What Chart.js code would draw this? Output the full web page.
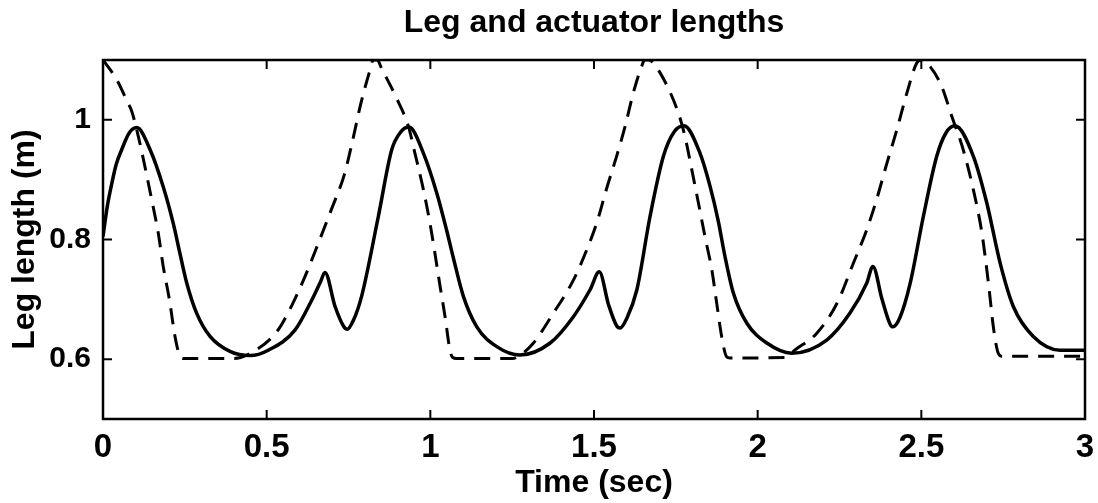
<!DOCTYPE html>
<html>
<head>
<meta charset="utf-8">
<title>Leg and actuator lengths</title>
<script src="https://cdn.jsdelivr.net/npm/chart.js@4.4.1/dist/chart.umd.min.js"></script>
<style>
  html, body { margin: 0; padding: 0; background: #fff; }
  #wrap { width: 1098px; height: 503px; position: relative; }
</style>
</head>
<body>
<div id="wrap"><canvas id="legChart"></canvas></div>
<script>
// ---- data ----
var xTicks = [0, 0.5, 1, 1.5, 2, 2.5, 3];
var yTicks = [0.6, 0.8, 1];

// leg length (solid)
var tLeg = [0, 0.013, 0.027, 0.04, 0.057, 0.08, 0.103, 0.144, 0.184, 0.215, 0.235, 0.256, 0.286, 0.327, 0.388, 0.449,
    0.505, 0.587, 0.638, 0.665, 0.678, 0.709, 0.735, 0.746, 0.765, 0.79, 0.841, 0.882, 0.91, 0.935,
    0.979, 1.02, 1.05, 1.07, 1.101, 1.142, 1.203, 1.274, 1.366, 1.437, 1.488, 1.516, 1.545, 1.57,
    1.58, 1.6, 1.631, 1.671, 1.712, 1.745, 1.775, 1.824, 1.855, 1.88, 1.9, 1.926, 1.967, 2.028,
    2.104, 2.211, 2.282, 2.333, 2.352, 2.38, 2.405, 2.413, 2.435, 2.466, 2.506, 2.547, 2.575, 2.603,
    2.659, 2.7, 2.741, 2.781, 2.842, 2.924, 3.0];
var legLen = [0.805, 0.855, 0.894, 0.925, 0.95, 0.978, 0.987, 0.95, 0.888, 0.826, 0.777, 0.727, 0.677, 0.638, 0.613, 0.606,
    0.615, 0.649, 0.699, 0.73, 0.745, 0.688, 0.655, 0.65, 0.665, 0.705, 0.838, 0.95, 0.98, 0.988,
    0.944, 0.877, 0.815, 0.77, 0.705, 0.654, 0.621, 0.607, 0.627, 0.671, 0.716, 0.746, 0.69, 0.655,
    0.652, 0.668, 0.716, 0.838, 0.939, 0.98, 0.99, 0.944, 0.888, 0.83, 0.772, 0.71, 0.66, 0.627,
    0.61, 0.632, 0.677, 0.727, 0.755, 0.7, 0.658, 0.654, 0.67, 0.727, 0.838, 0.939, 0.978, 0.99,
    0.939, 0.861, 0.76, 0.688, 0.638, 0.615, 0.615];

// actuator length (dashed)
var tAct = [0, 0.011, 0.042, 0.072, 0.088, 0.108, 0.128, 0.149, 0.169, 0.184, 0.203, 0.22, 0.233, 0.245,
    0.4, 0.44, 0.531, 0.577, 0.617, 0.658, 0.699, 0.737, 0.762, 0.788, 0.813, 0.826, 0.838, 0.851,
    0.897, 0.933, 0.953, 0.979, 0.999, 1.014, 1.03, 1.045, 1.06, 1.068, 1.08, 1.25, 1.275, 1.315,
    1.376, 1.437, 1.478, 1.508, 1.539, 1.569, 1.595, 1.62, 1.646, 1.655, 1.667, 1.697, 1.758, 1.778,
    1.799, 1.819, 1.839, 1.86, 1.875, 1.89, 1.905, 1.915, 2.09, 2.109, 2.18, 2.242, 2.292, 2.333,
    2.364, 2.394, 2.425, 2.456, 2.486, 2.501, 2.527, 2.562, 2.593, 2.628, 2.659, 2.685, 2.705, 2.72,
    2.733, 2.745, 3.0];
var actLen = [1.1, 1.092, 1.067, 1.033, 1.014, 0.972, 0.922, 0.866, 0.81, 0.755, 0.699, 0.638, 0.608, 0.601,
    0.601, 0.607, 0.646, 0.69, 0.738, 0.794, 0.852, 0.908, 0.964, 1.028, 1.078, 1.1, 1.1, 1.086,
    1.036, 0.989, 0.944, 0.883, 0.827, 0.777, 0.721, 0.671, 0.615, 0.603, 0.601, 0.601, 0.607, 0.627,
    0.677, 0.732, 0.783, 0.827, 0.886, 0.939, 0.989, 1.045, 1.09, 1.1, 1.1, 1.083, 1.011, 0.972,
    0.916, 0.861, 0.805, 0.749, 0.693, 0.638, 0.604, 0.602, 0.603, 0.613, 0.643, 0.693, 0.76, 0.816,
    0.868, 0.926, 0.983, 1.045, 1.095, 1.1, 1.089, 1.056, 1.006, 0.95, 0.883, 0.811, 0.727, 0.654,
    0.613, 0.605, 0.605];

function toPoints(xs, ys) {
    return xs.map(function (x, i) { return { x: x, y: ys[i] }; });
}

var fontFam = '"Liberation Sans", Arial, Helvetica, sans-serif';

// box round the plot area with inward ticks on all four sides
var boxPlugin = {
    id: 'matlabBox',
    afterDraw: function (chart) {
        var ctx = chart.ctx, a = chart.chartArea;
        var sx = chart.scales.x, sy = chart.scales.y;
        var len = 9;
        ctx.save();
        ctx.strokeStyle = '#000';
        ctx.lineWidth = 2.5;
        ctx.strokeRect(a.left, a.top, a.right - a.left, a.bottom - a.top);
        ctx.lineWidth = 2;
        ctx.beginPath();
        sx.ticks.forEach(function (t) {
            var px = sx.getPixelForValue(t.value);
            ctx.moveTo(px, a.bottom); ctx.lineTo(px, a.bottom - len);
            ctx.moveTo(px, a.top); ctx.lineTo(px, a.top + len);
        });
        sy.ticks.forEach(function (t) {
            var py = sy.getPixelForValue(t.value);
            ctx.moveTo(a.left, py); ctx.lineTo(a.left + len, py);
            ctx.moveTo(a.right, py); ctx.lineTo(a.right - len, py);
        });
        ctx.stroke();
        ctx.restore();
    }
};

new Chart(document.getElementById('legChart'), {
    type: 'scatter',
    data: {
        datasets: [{
            label: 'Leg length',
            data: toPoints(tLeg, legLen),
            showLine: true,
            borderColor: '#000',
            borderWidth: 3.5,
            pointRadius: 0,
            cubicInterpolationMode: 'monotone'
        }, {
            label: 'Actuator length',
            data: toPoints(tAct, actLen),
            showLine: true,
            borderColor: '#000',
            borderWidth: 3,
            borderDash: [16, 10],
            pointRadius: 0,
            cubicInterpolationMode: 'monotone'
        }]
    },
    options: {
        responsive: true,
        maintainAspectRatio: false,
        animation: false,
        layout: { padding: { left: 0, right: 13, top: 0, bottom: 0 } },
        plugins: {
            legend: { display: false },
            tooltip: { enabled: false },
            title: {
                display: true,
                text: 'Leg and actuator lengths',
                fullSize: false,
                color: '#000',
                font: { family: fontFam, size: 32, weight: 'bold', lineHeight: 1.2 },
                padding: { top: 4.3, bottom: 17.3 }
            }
        },
        scales: {
            x: {
                type: 'linear',
                min: 0, max: 3,
                afterBuildTicks: function (s) { s.ticks = xTicks.map(function (v) { return { value: v }; }); },
                afterFit: function (s) { s.height = 84; s.paddingLeft = 0; s.paddingRight = 0; },
                grid: { display: false, drawTicks: false },
                border: { display: false },
                ticks: {
                    autoSkip: false, maxRotation: 0, padding: 9.5, color: '#000',
                    font: { family: fontFam, size: 33, weight: 'bold', lineHeight: 1.2 },
                    callback: function (v) { return String(v); }
                },
                title: {
                    display: true, text: 'Time (sec)', color: '#000',
                    font: { family: fontFam, size: 32, weight: 'bold', lineHeight: 1.2 },
                    padding: { top: 0, bottom: 1 }
                }
            },
            y: {
                type: 'linear',
                min: 0.5, max: 1.1,
                afterBuildTicks: function (s) { s.ticks = yTicks.map(function (v) { return { value: v }; }); },
                afterFit: function (s) { s.width = 103; s.paddingTop = 0; s.paddingBottom = 0; },
                grid: { display: false, drawTicks: false },
                border: { display: false },
                ticks: {
                    padding: 12, color: '#000',
                    font: { family: fontFam, size: 30, weight: 'bold', lineHeight: 1.2 },
                    callback: function (v) { return String(v); }
                },
                title: {
                    display: true, text: 'Leg length (m)', color: '#000',
                    font: { family: fontFam, size: 32, weight: 'bold', lineHeight: 1.2 },
                    padding: { top: 6, bottom: 0 }
                }
            }
        }
    },
    plugins: [boxPlugin]
});
</script>
</body>
</html>
